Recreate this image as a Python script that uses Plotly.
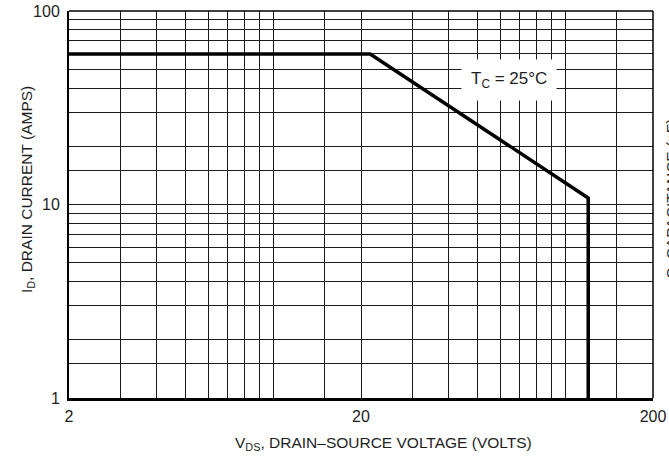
import math
import plotly.graph_objects as go

# ---- data (safe operating area boundary) ----
vds_volts = [2, 21.5, 120, 120]
id_amps = [60, 60, 10.8, 1]

# labelled ticks and unlabelled grid lines
x_ticks = [2, 20, 200]
x_tick_labels = ["2", "20", "200"]
x_minor_grid = [3, 4, 5, 6, 7, 8, 9, 10, 15, 30, 40, 50, 60, 70, 80, 90, 100, 150]
y_ticks = [1, 10, 100]
y_tick_labels = ["1", "10", "100"]
y_minor_grid = [1.5, 2, 3, 4, 5, 6, 7, 8, 9, 15, 20, 30, 40, 50, 60, 70, 80, 90]

x_title = "V<sub>DS</sub>, DRAIN–SOURCE VOLTAGE (VOLTS)"
y_title = "I<sub>D</sub>, DRAIN CURRENT (AMPS)"
cond_label = "T<sub>C</sub> = 25°C"
side_text = "C, CAPACITANCE (pF)"

FONT = "Liberation Sans, Arial, sans-serif"
TXT = "#1e1e1e"
GRID = "#1a1a1a"

fig = go.Figure()
fig.add_trace(go.Scatter(
    x=vds_volts, y=id_amps, mode="lines",
    line=dict(color="black", width=3.5),
    showlegend=False, hoverinfo="skip",
))

fig.update_layout(
    width=669, height=461, autosize=False,
    margin=dict(l=69, r=16, t=11, b=63),
    paper_bgcolor="white", plot_bgcolor="white",
    font=dict(family=FONT, color=TXT, size=16),
    showlegend=False,
)

fig.update_xaxes(
    type="log", range=[math.log10(2), math.log10(200)],
    tickmode="array", tickvals=x_ticks, ticktext=x_tick_labels,
    ticks="", showgrid=True, gridcolor=GRID, gridwidth=1,
    minor=dict(tickmode="array", tickvals=x_minor_grid, ticks="",
               showgrid=True, gridcolor=GRID, gridwidth=1),
    showline=True, linecolor="black", linewidth=3,
    zeroline=False, automargin=False,
    tickfont=dict(size=16, family=FONT, color=TXT),
    ticklabelstandoff=2,
)
fig.update_yaxes(
    type="log", range=[0, 2],
    tickmode="array", tickvals=y_ticks, ticktext=y_tick_labels,
    ticks="", showgrid=True, gridcolor=GRID, gridwidth=1,
    minor=dict(tickmode="array", tickvals=y_minor_grid, ticks="",
               showgrid=True, gridcolor=GRID, gridwidth=1),
    showline=True, linecolor="black", linewidth=2,
    zeroline=False, automargin=False,
    tickfont=dict(size=16, family=FONT, color=TXT),
    ticklabelstandoff=4,
)

# top and right frame
fig.add_shape(type="line", xref="paper", yref="paper", x0=0, x1=1, y0=1, y1=1,
              line=dict(color="black", width=1.5))
fig.add_shape(type="line", xref="paper", yref="paper", x0=1, x1=1, y0=0, y1=1,
              line=dict(color="black", width=1.5))

# axis titles
fig.add_annotation(text=x_title, xref="paper", yref="paper", x=0.5377, y=-0.1163,
                   xanchor="center", yanchor="middle", showarrow=False,
                   font=dict(size=15.5, family=FONT, color=TXT))
fig.add_annotation(text=y_title, xref="paper", yref="paper", x=-0.07, y=0.5375,
                   xanchor="center", yanchor="middle", textangle=-90, showarrow=False,
                   font=dict(size=15.5, family=FONT, color=TXT))

# condition label with white box
fig.add_annotation(text=cond_label, xref="paper", yref="paper", x=0.7534, y=0.8217,
                   xanchor="center", yanchor="middle", showarrow=False,
                   bgcolor="white", borderpad=9,
                   font=dict(size=17, family=FONT, color=TXT))

# neighbouring chart's axis title, clipped at the right edge as in the reference
fig.add_annotation(text=side_text, xref="paper", yref="paper", x=1.0308, y=0.514,
                   xanchor="center", yanchor="middle", textangle=-90, showarrow=False,
                   font=dict(size=15.5, family=FONT, color=TXT))

fig.write_html("out.html", config={"displayModeBar": False},
               post_script="document.body.style.margin='0';")
